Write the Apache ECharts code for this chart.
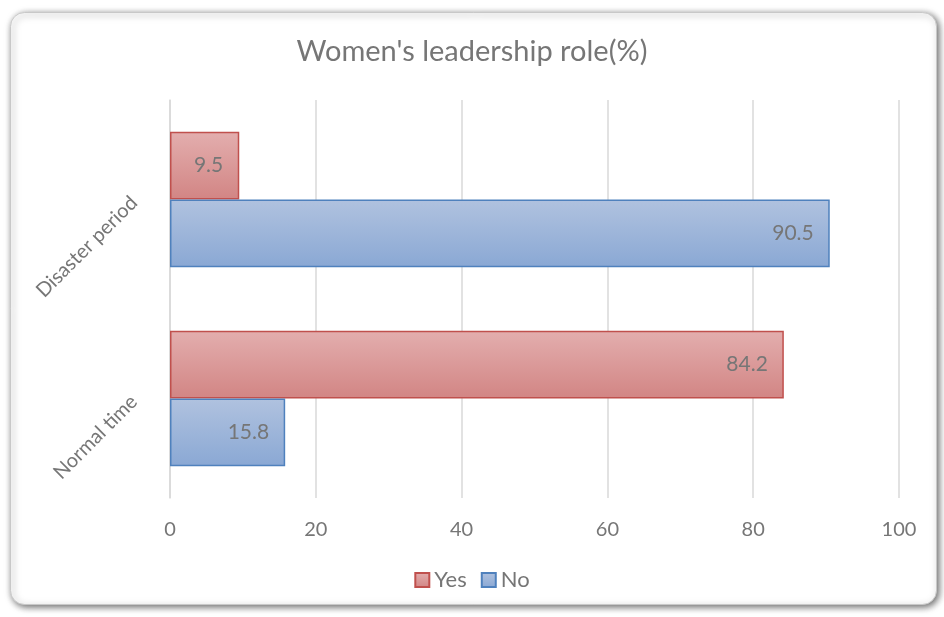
<!DOCTYPE html>
<html><head><meta charset="utf-8">
<script src="https://cdn.jsdelivr.net/npm/echarts@6/dist/echarts.min.js"></script>
<style>html,body{margin:0;padding:0;background:#fff}#c{width:944px;height:617px}</style>
</head><body><div id="c"></div>
<script>
var categories = ['Normal time', 'Disaster period'];
var yesValues = [84.2, 9.5];
var noValues = [15.8, 90.5];
var xTicks = [0, 20, 40, 60, 80, 100];

var chart = echarts.init(document.getElementById('c'));
var font = 'Lato';
function grad(top, bottom) {
  return new echarts.graphic.LinearGradient(0, 0, 0, 1, [{offset: 0, color: top}, {offset: 1, color: bottom}]);
}
chart.setOption({
  animation: false,
  graphic: [{
    type: 'rect', left: 10, top: 12, z: -10,
    shape: {width: 926, height: 592, r: 14},
    style: {fill: '#fff', stroke: '#c8c8c8', lineWidth: 1, shadowBlur: 7, shadowColor: 'rgba(0,0,0,0.6)', shadowOffsetX: 2, shadowOffsetY: 2}
  }],
  title: {
    text: "Women's leadership role(%)", left: 'center', top: 32,
    textStyle: {fontFamily: font, fontSize: 29, fontWeight: 'normal', color: '#767676'}
  },
  legend: {
    data: ['Yes', 'No'], bottom: 21, left: 'center', itemWidth: 14, itemHeight: 14, itemGap: 14,
    textStyle: {fontFamily: font, fontSize: 22, color: '#767676'},
    icon: 'rect'
  },
  grid: {left: 170, right: 45, top: 100, bottom: 119},
  xAxis: {
    type: 'value', min: 0, max: 100, interval: 20,
    axisLine: {show: false}, axisTick: {show: false},
    splitLine: {lineStyle: {color: '#d9d9d9', width: 1.5}},
    axisLabel: {fontFamily: font, fontSize: 20, color: '#767676', margin: 22,
      formatter: function (v) { return xTicks.indexOf(v) >= 0 ? String(v) : ''; }}
  },
  yAxis: {
    type: 'category', data: categories,
    axisLine: {show: true, lineStyle: {color: '#d9d9d9', width: 1.5}},
    axisTick: {show: false},
    axisLabel: {fontFamily: font, fontSize: 20, color: '#767676', rotate: 45, margin: 36}
  },
  series: [
    {
      name: 'Yes', type: 'bar', data: yesValues, barGap: '0%', barCategoryGap: '32%',
      itemStyle: {color: grad('#e3aeae', '#d28584'), borderColor: '#c0504d', borderWidth: 1.5},
      label: {show: true, position: 'insideRight', distance: 16, fontFamily: font, fontSize: 21, color: '#767676'}
    },
    {
      name: 'No', type: 'bar', data: noValues, barGap: '0%', barCategoryGap: '32%',
      itemStyle: {color: grad('#b0c2df', '#8aa8d4'), borderColor: '#4f81bd', borderWidth: 1.5},
      label: {show: true, position: 'insideRight', distance: 16, fontFamily: font, fontSize: 21, color: '#767676'}
    }
  ]
});
</script></body></html>
